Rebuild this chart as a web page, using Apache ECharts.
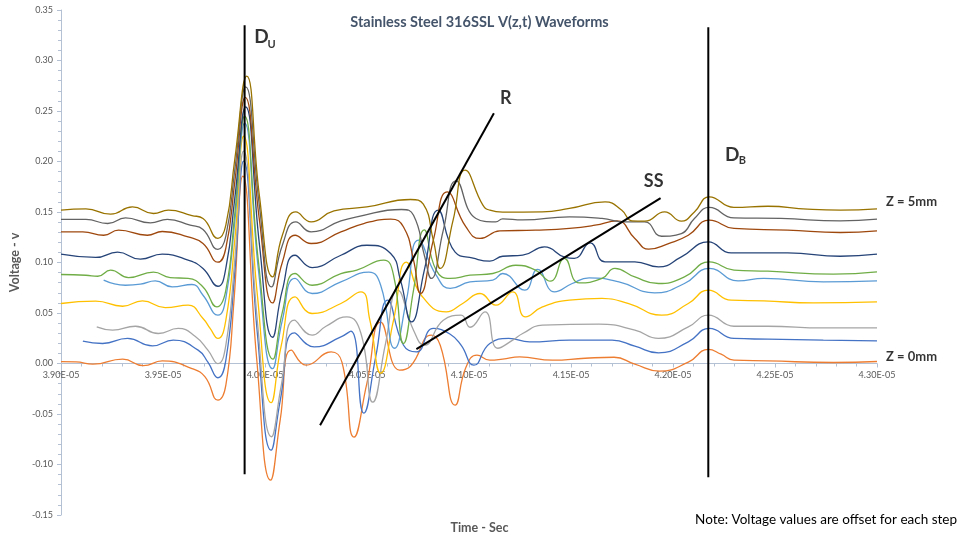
<!DOCTYPE html>
<html>
<head>
<meta charset="utf-8">
<script src="https://cdn.jsdelivr.net/npm/echarts@6.0.0/dist/echarts.min.js"></script>
<style>
html,body{margin:0;padding:0;background:#ffffff;}
#chart{width:959px;height:535px;}
</style>
</head>
<body>
<div id="chart"></div>
<script>
// Time values are in units of 1E-05 s; voltages in V (each step offset upward)
const z0Time = [3.9000,3.9073,3.9156,3.9302,3.9404,3.9496,3.9642,3.9706,3.9769,3.9808,3.9847,3.9891,3.9959,4.0027,4.0075,4.0129,4.0202,4.0324,4.0377,4.0436,4.0499,4.0567,4.0659,4.0713,4.0815,4.0859,4.0932,4.0985,4.1039,4.1102,4.1165,4.1248,4.1409,4.1569,4.1711,4.1813,4.1934,4.2075,4.2173,4.2236,4.2299,4.2465,4.2786,4.3000];
const z0Volt = [0.0018,0.0016,-0.0007,0.0043,-0.0022,0.0026,-0.0050,-0.0133,-0.0363,-0.0215,0.0600,0.1855,0.0050,-0.1155,-0.0550,0.0132,-0.0017,0.0115,0.0013,-0.0729,-0.0200,0.0409,-0.0066,-0.0027,0.0280,0.0181,-0.0412,-0.0037,0.0082,0.0033,0.0043,0.0065,0.0033,0.0052,0.0062,-0.0007,-0.0076,0.0013,0.0139,0.0092,0.0033,0.0026,0.0010,0.0020];

const z1Time = [3.9107,3.9204,3.9326,3.9448,3.9550,3.9672,3.9720,3.9769,3.9808,3.9852,3.9895,3.9963,4.0030,4.0075,4.0144,4.0241,4.0372,4.0421,4.0484,4.0543,4.0601,4.0679,4.0742,4.0825,4.0908,4.0961,4.1024,4.1102,4.1195,4.1297,4.1492,4.1701,4.1813,4.1929,4.2075,4.2178,4.2299,4.2465,4.2737,4.3000];
const z1Volt = [0.0221,0.0198,0.0248,0.0174,0.0231,0.0132,0.0013,-0.0141,0.0033,0.0910,0.2003,0.0286,-0.0858,-0.0363,0.0303,0.0164,0.0263,0.0320,-0.0492,0.0070,0.0627,0.0181,0.0115,0.0347,0.0290,0.0181,-0.0017,0.0198,0.0248,0.0214,0.0231,0.0231,0.0171,0.0105,0.0214,0.0347,0.0248,0.0241,0.0231,0.0224];

const z2Time = [3.9175,3.9253,3.9365,3.9477,3.9574,3.9657,3.9720,3.9769,3.9808,3.9852,3.9895,3.9963,4.0032,4.0080,4.0144,4.0231,4.0299,4.0401,4.0470,4.0528,4.0591,4.0650,4.0728,4.0781,4.0874,4.0961,4.1005,4.1078,4.1141,4.1214,4.1263,4.1360,4.1637,4.1813,4.1929,4.2075,4.2173,4.2299,4.2465,4.2737,4.3000];
const z2Volt = [0.0362,0.0330,0.0369,0.0297,0.0347,0.0270,0.0132,-0.0002,0.0181,0.1030,0.2102,0.0406,-0.0725,-0.0215,0.0429,0.0280,0.0369,0.0461,0.0300,-0.0383,0.0200,0.0726,0.0330,0.0181,0.0429,0.0478,0.0359,0.0511,0.0151,0.0231,0.0297,0.0379,0.0389,0.0330,0.0248,0.0362,0.0478,0.0369,0.0369,0.0352,0.0352];

const z3Time = [3.9000,3.9170,3.9302,3.9399,3.9511,3.9623,3.9696,3.9730,3.9769,3.9808,3.9852,3.9895,3.9963,4.0030,4.0080,4.0147,4.0231,4.0372,4.0470,4.0514,4.0567,4.0630,4.0693,4.0766,4.0888,4.0971,4.1054,4.1131,4.1214,4.1277,4.1360,4.1492,4.1652,4.1783,4.1944,4.2075,4.2173,4.2285,4.2445,4.2689,4.3000];
const z3Volt = [0.0594,0.0617,0.0567,0.0620,0.0554,0.0577,0.0446,0.0350,0.0248,0.0429,0.1230,0.2250,0.0667,-0.0388,0.0181,0.0659,0.0495,0.0594,0.0709,0.0429,-0.0096,0.0429,0.1003,0.0676,0.0511,0.0597,0.0693,0.0577,0.0709,0.0461,0.0560,0.0627,0.0644,0.0594,0.0478,0.0594,0.0726,0.0627,0.0620,0.0600,0.0610];

const z4Time = [3.9209,3.9316,3.9389,3.9462,3.9545,3.9642,3.9696,3.9769,3.9808,3.9852,3.9900,3.9968,4.0037,4.0085,4.0147,4.0231,4.0372,4.0509,4.0567,4.0635,4.0693,4.0752,4.0839,4.0908,4.1005,4.1117,4.1165,4.1273,4.1336,4.1419,4.1506,4.1589,4.1735,4.1910,4.2056,4.2178,4.2319,4.2445,4.2737,4.3000];
const z4Volt = [0.0825,0.0775,0.0785,0.0818,0.0758,0.0782,0.0676,0.0478,0.0647,0.1410,0.2379,0.0921,-0.0051,0.0429,0.0842,0.0693,0.0808,0.0904,0.0775,0.0151,0.0627,0.1221,0.0874,0.0743,0.0808,0.0825,0.0891,0.0726,0.0931,0.0709,0.0792,0.0848,0.0808,0.0699,0.0792,0.0941,0.0818,0.0842,0.0808,0.0818];

const z5Time = [3.9000,3.9122,3.9180,3.9243,3.9331,3.9453,3.9535,3.9623,3.9696,3.9764,3.9808,3.9852,3.9900,3.9968,4.0039,4.0085,4.0147,4.0231,4.0372,4.0450,4.0582,4.0630,4.0679,4.0728,4.0781,4.0839,4.0908,4.1005,4.1117,4.1229,4.1326,4.1399,4.1467,4.1540,4.1652,4.1715,4.1813,4.1929,4.2056,4.2178,4.2299,4.2465,4.2786,4.3000];
const z5Volt = [0.0881,0.0874,0.0864,0.0924,0.0851,0.0904,0.0851,0.0842,0.0758,0.0560,0.0726,0.1490,0.2448,0.1005,0.0043,0.0508,0.0891,0.0775,0.0891,0.0924,0.1023,0.0874,0.0198,0.0726,0.1324,0.0924,0.0842,0.0874,0.0891,0.0973,0.0924,0.0815,0.1040,0.0798,0.0842,0.0941,0.0857,0.0792,0.0857,0.1006,0.0924,0.0914,0.0884,0.0907];

const z6Time = [3.9000,3.9170,3.9277,3.9389,3.9496,3.9623,3.9696,3.9769,3.9808,3.9852,3.9905,3.9973,4.0037,4.0085,4.0147,4.0231,4.0372,4.0499,4.0616,4.0664,4.0718,4.0781,4.0849,4.0932,4.1020,4.1102,4.1165,4.1263,4.1370,4.1472,4.1516,4.1594,4.1667,4.1813,4.1929,4.2041,4.2173,4.2285,4.2562,4.2820,4.3000];
const z6Volt = [0.1082,0.1050,0.1102,0.1033,0.1082,0.1023,0.0941,0.0765,0.0944,0.1640,0.2541,0.1172,0.0260,0.0726,0.1072,0.0950,0.1072,0.1171,0.1089,0.0825,0.0412,0.0924,0.1518,0.1102,0.1043,0.1013,0.1062,0.1072,0.1154,0.1050,0.1040,0.1194,0.1006,0.1006,0.0956,0.1055,0.1204,0.1095,0.1095,0.1062,0.1082];

const z7Time = [3.9000,3.9107,3.9209,3.9282,3.9423,3.9496,3.9623,3.9696,3.9769,3.9808,3.9852,3.9903,3.9973,4.0037,4.0085,4.0148,4.0226,4.0372,4.0484,4.0616,4.0679,4.0728,4.0762,4.0825,4.0893,4.0985,4.1054,4.1151,4.1326,4.1492,4.1618,4.1725,4.1813,4.1881,4.1978,4.2075,4.2178,4.2299,4.2562,4.2820,4.3000];
const z7Volt = [0.1303,0.1303,0.1270,0.1320,0.1270,0.1307,0.1253,0.1188,0.1003,0.1142,0.1800,0.2634,0.1414,0.0600,0.1003,0.1270,0.1188,0.1303,0.1386,0.1429,0.1352,0.1023,0.0693,0.1221,0.1699,0.1352,0.1238,0.1313,0.1320,0.1337,0.1369,0.1412,0.1238,0.1132,0.1188,0.1270,0.1419,0.1337,0.1320,0.1297,0.1313];

const z8Time = [3.9000,3.9122,3.9229,3.9316,3.9438,3.9521,3.9633,3.9696,3.9769,3.9808,3.9852,3.9905,3.9973,4.0032,4.0085,4.0151,4.0226,4.0372,4.0450,4.0669,4.0728,4.0781,4.0815,4.0874,4.0937,4.1034,4.1131,4.1165,4.1263,4.1492,4.1652,4.1764,4.1861,4.1944,4.2041,4.2105,4.2178,4.2299,4.2528,4.2820,4.3000];
const z8Volt = [0.1426,0.1426,0.1386,0.1442,0.1392,0.1426,0.1369,0.1327,0.1129,0.1260,0.1920,0.2739,0.1550,0.0758,0.1171,0.1402,0.1303,0.1412,0.1452,0.1525,0.1468,0.1072,0.0842,0.1320,0.1808,0.1436,0.1402,0.1432,0.1422,0.1452,0.1436,0.1402,0.1402,0.1260,0.1287,0.1436,0.1545,0.1442,0.1436,0.1412,0.1429];

const z9Time = [3.9000,3.9122,3.9243,3.9350,3.9453,3.9526,3.9642,3.9696,3.9769,3.9808,3.9852,3.9910,3.9973,4.0037,4.0085,4.0151,4.0226,4.0338,4.0499,4.0713,4.0776,4.0825,4.0859,4.0922,4.0981,4.1068,4.1102,4.1165,4.1360,4.1492,4.1667,4.1749,4.1798,4.1861,4.1959,4.2041,4.2105,4.2178,4.2299,4.2465,4.2659,4.2820,4.3000];
const z9Volt = [0.1518,0.1531,0.1478,0.1550,0.1485,0.1518,0.1465,0.1436,0.1238,0.1369,0.2025,0.2845,0.1652,0.0857,0.1270,0.1501,0.1402,0.1511,0.1550,0.1624,0.1577,0.1221,0.0941,0.1419,0.1914,0.1568,0.1518,0.1498,0.1501,0.1535,0.1600,0.1518,0.1412,0.1409,0.1501,0.1409,0.1501,0.1650,0.1545,0.1557,0.1528,0.1518,0.1531];

const stepTimes = [z0Time, z1Time, z2Time, z3Time, z4Time, z5Time, z6Time, z7Time, z8Time, z9Time];
const stepVolts = [z0Volt, z1Volt, z2Volt, z3Volt, z4Volt, z5Volt, z6Volt, z7Volt, z8Volt, z9Volt];
const stepNames = ['Step 1','Step 2','Step 3','Step 4','Step 5','Step 6','Step 7','Step 8','Step 9','Step 10'];
const stepColors = ['#ED7D31','#4472C4','#A5A5A5','#FFC000','#5B9BD5','#70AD47','#264478','#9E480E','#636363','#997300'];

// Reference lines (end points in data units)
const duLineTime = [3.9900, 3.9900]; const duLineVolt = [0.3349, -0.1096];
const dbLineTime = [4.2173, 4.2173]; const dbLineVolt = [0.3330, -0.1126];
const rLineTime  = [4.0270, 4.1122]; const rLineVolt  = [-0.0611, 0.2478];
const ssLineTime = [4.0742, 4.1939]; const ssLineVolt = [0.0142, 0.1637];

// Annotation texts and anchors (data units)
const annoText = ['D', 'U', 'D', 'B', 'R', 'SS', 'Z = 5mm', 'Z = 0mm'];
const annoTime = [3.9983, 4.0032, 4.2290, 4.2340, 4.1180, 4.1905, 4.3044, 4.3044];
const annoVolt = [0.3231, 0.3161, 0.2062, 0.2013, 0.2627, 0.1805, 0.1597, 0.0062];

const FONT = 'Lato, "Open Sans", "Liberation Sans", sans-serif';
const axisColor = '#b4c0d3';
const tickLabelColor = '#595959';

const series = stepTimes.map((times, i) => ({
  name: stepNames[i],
  type: 'line',
  data: times.map((t, j) => [t, stepVolts[i][j]]),
  smooth: 0.5,
  symbol: 'none',
  silent: true,
  lineStyle: { color: stepColors[i], width: 1.3 },
  itemStyle: { color: stepColors[i] },
  z: 2
}));

[[duLineTime, duLineVolt], [dbLineTime, dbLineVolt], [rLineTime, rLineVolt], [ssLineTime, ssLineVolt]]
  .forEach(([t, v]) => series.push({
    type: 'line', data: t.map((x, j) => [x, v[j]]), symbol: 'none', silent: true, clip: false,
    lineStyle: { color: '#000000', width: 2 }, z: 5
  }));

const annoStyle = [
  { fontSize: 19, align: 'center' },
  { fontSize: 11, align: 'center' },
  { fontSize: 19, align: 'center' },
  { fontSize: 11, align: 'center' },
  { fontSize: 18, align: 'center' },
  { fontSize: 18, align: 'center' },
  { fontSize: 13, align: 'left' },
  { fontSize: 13, align: 'left' }
];

series.push({
  type: 'scatter', symbolSize: 0, silent: true, clip: false, z: 6,
  data: annoText.map((txt, i) => ({
    value: [annoTime[i], annoVolt[i]],
    label: {
      show: true, position: 'inside', formatter: txt,
      fontFamily: FONT, fontWeight: 'bold', color: '#000000',
      fontSize: annoStyle[i].fontSize, align: annoStyle[i].align, verticalAlign: 'middle'
    }
  }))
});

const chart = echarts.init(document.getElementById('chart'));
chart.setOption({
  animation: false,
  backgroundColor: '#ffffff',
  textStyle: { fontFamily: FONT },
  title: [
    { text: 'Stainless Steel 316SSL V(z,t) Waveforms', left: 'center', top: 10,
      textStyle: { fontFamily: FONT, fontSize: 14.5, fontWeight: 'bold', color: '#44546a' } },
    { text: 'Time - Sec', left: 'center', top: 516,
      textStyle: { fontFamily: FONT, fontSize: 12.5, fontWeight: 'bold', color: '#595959' } }
  ],
  graphic: [
    { type: 'text', right: 2, top: 513,
      style: { text: 'Note: Voltage values are offset for each step', font: '13.5px ' + FONT, fill: '#000000' } }
  ],
  grid: { left: 55, right: 82, top: 10, bottom: 20, containLabel: false },
  xAxis: {
    type: 'value', min: 3.90, max: 4.30, interval: 0.05,
    axisLine: { onZero: false, lineStyle: { color: axisColor, width: 1 } },
    axisTick: { show: true, length: 4, lineStyle: { color: axisColor } },
    minorTick: { show: true, splitNumber: 5, length: 3, lineStyle: { color: axisColor } },
    splitLine: { show: false },
    axisLabel: { formatter: v => v.toFixed(2) + 'E-05', color: tickLabelColor, fontSize: 9, margin: 7, fontFamily: FONT }
  },
  yAxis: {
    type: 'value', min: -0.15, max: 0.35, interval: 0.05,
    name: 'Voltage - v', nameLocation: 'middle', nameGap: 32, nameRotate: 90,
    nameTextStyle: { fontFamily: FONT, fontSize: 12.5, fontWeight: 'bold', color: '#595959' },
    axisLine: { show: true, onZero: false, lineStyle: { color: axisColor, width: 1 } },
    axisTick: { show: true, length: 4, lineStyle: { color: axisColor } },
    minorTick: { show: true, splitNumber: 5, length: 3, lineStyle: { color: axisColor } },
    splitLine: { show: false },
    axisLabel: { formatter: v => v.toFixed(2), color: tickLabelColor, fontSize: 9, margin: 8, fontFamily: FONT }
  },
  series: series
});

// Place the time axis on the zero-volt line (as in the original chart)
const yZero = chart.convertToPixel({ yAxisIndex: 0 }, 0);
const yMinPx = chart.convertToPixel({ yAxisIndex: 0 }, -0.15);
chart.setOption({ xAxis: { offset: yZero - yMinPx } });
</script>
</body>
</html>
